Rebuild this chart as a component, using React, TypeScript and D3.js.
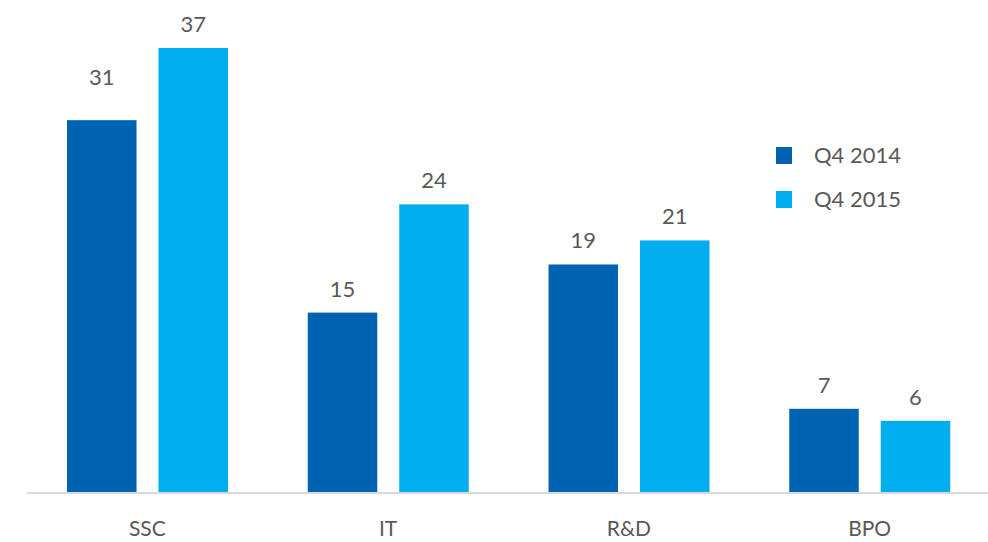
import React from "react";
import * as d3 from "d3";

const categories = ["SSC", "IT", "R&D", "BPO"];
const seriesNames = ["Q4 2014", "Q4 2015"];
const q42014 = [31, 15, 19, 7];
const q42015 = [37, 24, 21, 6];
const colors = ["#0063B1", "#00AEEF"];

export default function App() {
  const W = 988, H = 542;
  const baseY = 493;
  const x = d3.scaleBand<string>().domain(categories).range([27, 990]).paddingInner(0).paddingOuter(0);
  const inner = d3.scaleBand<string>().domain(seriesNames).range([40, 201]).paddingInner(0.24);
  const y = d3.scaleLinear().domain([0, 37]).range([baseY, 48]);
  const series = [q42014, q42015];
  const font = "Lato, 'Open Sans', sans-serif";
  // label gap above bar (the first SSC label sits higher in the reference)
  const labelGap = (i: number, j: number) => (i === 0 && j === 0 ? 35 : 16);
  return (
    <svg width={W} height={H} style={{ position: "absolute", left: 0, top: 0 }} fontFamily={font}>
      {categories.map((c, i) => (
        <g key={c}>
          {series.map((s, j) => {
            const bx = (x(c) as number) + (inner(seriesNames[j]) as number);
            const bw = inner.bandwidth();
            return (
              <g key={j}>
                <rect x={bx} y={y(s[i])} width={bw} height={baseY - y(s[i])} fill={colors[j]} />
                <text x={bx + bw / 2} y={y(s[i]) - labelGap(i, j)} textAnchor="middle" fontSize={22} fill="#595959">{s[i]}</text>
              </g>
            );
          })}
          <text x={(x(c) as number) + x.bandwidth() / 2} y={536} textAnchor="middle" fontSize={21} fill="#595959">{c}</text>
        </g>
      ))}
      <line x1={27} x2={988} y1={baseY} y2={baseY} stroke="#D9D9D9" strokeWidth={2} />
      {seriesNames.map((n, j) => (
        <g key={n} transform={`translate(776, ${147 + j * 44})`}>
          <rect x={0} y={0} width={16} height={17} fill={colors[j]} />
          <text x={38} y={16} fontSize={22} fill="#595959">{n}</text>
        </g>
      ))}
    </svg>
  );
}
